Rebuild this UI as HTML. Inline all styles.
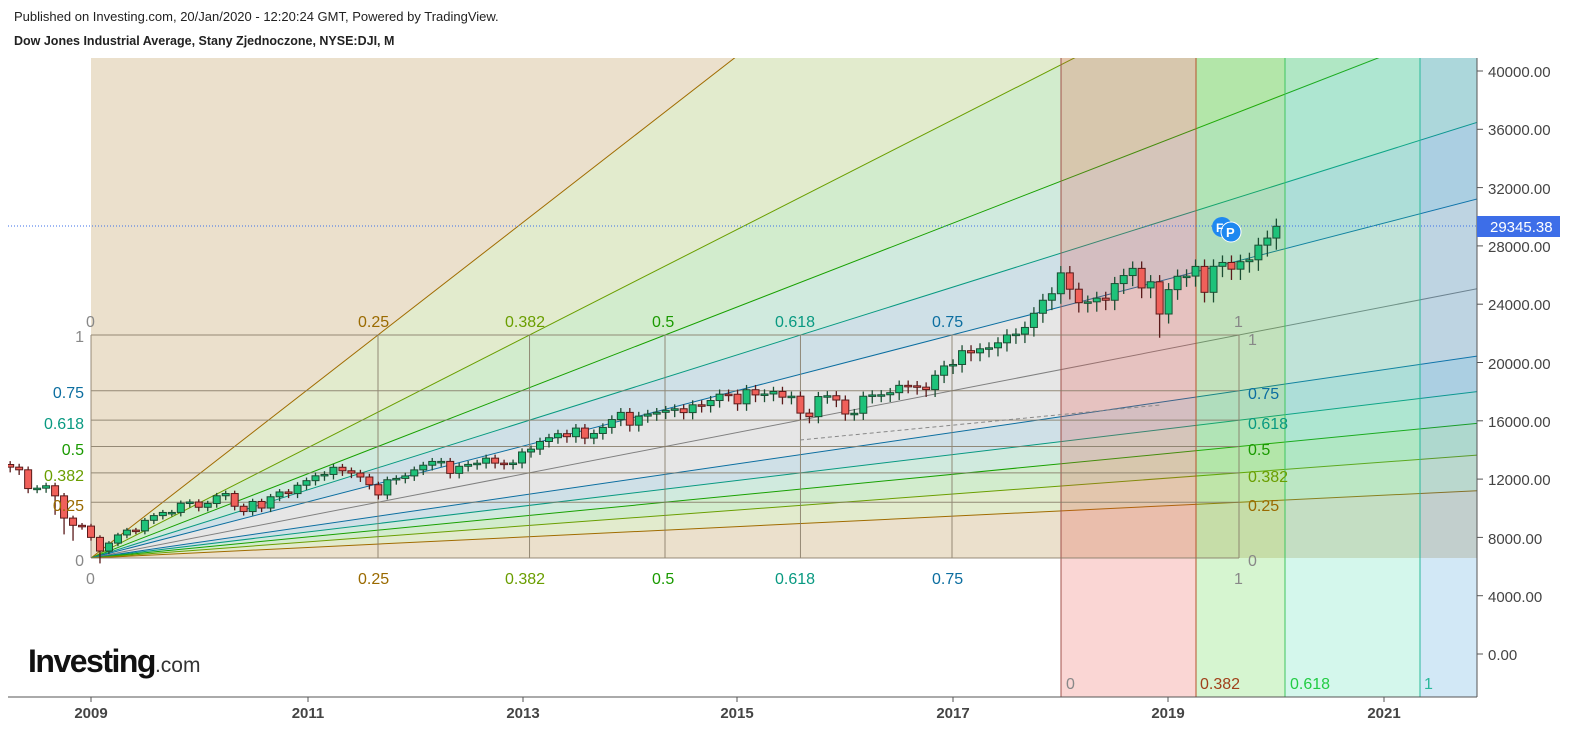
<!DOCTYPE html>
<html><head><meta charset="utf-8"><style>
html,body{margin:0;padding:0;background:#fff;}
svg{display:block;font-family:"Liberation Sans",sans-serif;}
</style></head><body>
<svg id="s" width="1573" height="730" xmlns="http://www.w3.org/2000/svg">
<defs><clipPath id="cp"><rect x="91" y="58" width="1386" height="500"/></clipPath>
<clipPath id="pa"><rect x="8" y="58" width="1469" height="639"/></clipPath></defs>
<rect width="1573" height="730" fill="#fff"/>
<g id="fans" clip-path="url(#cp)"></g>
<g id="vb"></g>
<g id="box" stroke="#857a66" stroke-width="1" opacity="0.85"></g>
<line x1="800" y1="440" x2="1160" y2="405" stroke="#888" stroke-dasharray="4,3"/>
<line x1="8" y1="226" x2="1477" y2="226" stroke="#3b6fe8" stroke-dasharray="1,2"/>
<g id="candles" clip-path="url(#pa)"></g>
<circle cx="1222" cy="227" r="10" fill="#1e88f0"/><circle cx="1231" cy="232" r="10" fill="#1e88f0" stroke="#fff" stroke-width="1"/>
<text x="1216" y="232" font-size="12" font-weight="bold" fill="#fff">F</text>
<text x="1226" y="237" font-size="13" font-weight="bold" fill="#fff">P</text>
<g font-size="16">
<text x="86" y="327" fill="#888">0</text>
<text x="358" y="327" fill="#9a6a00">0.25</text>
<text x="505" y="327" fill="#6a9e00">0.382</text>
<text x="652" y="327" fill="#1a9a00">0.5</text>
<text x="775" y="327" fill="#089981">0.618</text>
<text x="932" y="327" fill="#0c6ea0">0.75</text>
<text x="1234" y="327" fill="#888">1</text>
<text x="86" y="584" fill="#888">0</text>
<text x="358" y="584" fill="#9a6a00">0.25</text>
<text x="505" y="584" fill="#6a9e00">0.382</text>
<text x="652" y="584" fill="#1a9a00">0.5</text>
<text x="775" y="584" fill="#089981">0.618</text>
<text x="932" y="584" fill="#0c6ea0">0.75</text>
<text x="1234" y="584" fill="#888">1</text>
<g text-anchor="end">
<text x="84" y="342" fill="#888">1</text>
<text x="84" y="398" fill="#0c6ea0">0.75</text>
<text x="84" y="429" fill="#089981">0.618</text>
<text x="84" y="455" fill="#1a9a00">0.5</text>
<text x="84" y="481" fill="#6a9e00">0.382</text>
<text x="84" y="511" fill="#9a6a00">0.25</text>
<text x="84" y="566" fill="#888">0</text>
</g>
<text x="1248" y="345" fill="#888">1</text>
<text x="1248" y="399" fill="#0c6ea0">0.75</text>
<text x="1248" y="429" fill="#089981">0.618</text>
<text x="1248" y="455" fill="#1a9a00">0.5</text>
<text x="1248" y="482" fill="#6a9e00">0.382</text>
<text x="1248" y="511" fill="#9a6a00">0.25</text>
<text x="1248" y="566" fill="#888">0</text>
<text x="1066" y="689" fill="#888">0</text>
<text x="1200" y="689" fill="#a0401a">0.382</text>
<text x="1290" y="689" fill="#22cc44">0.618</text>
<text x="1424" y="689" fill="#2ab89a">1</text>
</g>
<line x1="1477" y1="58" x2="1477" y2="697" stroke="#555"/>
<line x1="8" y1="697" x2="1477" y2="697" stroke="#555"/>
<g id="yax" font-size="15" fill="#444">
<text x="1488" y="77">40000.00</text>
<text x="1488" y="135">36000.00</text>
<text x="1488" y="194">32000.00</text>
<text x="1488" y="252">28000.00</text>
<text x="1488" y="310">24000.00</text>
<text x="1488" y="369">20000.00</text>
<text x="1488" y="427">16000.00</text>
<text x="1488" y="485">12000.00</text>
<text x="1488" y="544">8000.00</text>
<text x="1488" y="602">4000.00</text>
<text x="1488" y="660">0.00</text>
</g>
<rect x="1477" y="216" width="83" height="21" fill="#3d6ee8"/>
<text x="1490" y="232" font-size="15" fill="#fff">29345.38</text>
<g font-size="15" font-weight="bold" fill="#444" text-anchor="middle">
<text x="91" y="718">2009</text><text x="308" y="718">2011</text><text x="523" y="718">2013</text>
<text x="737" y="718">2015</text><text x="953" y="718">2017</text><text x="1168" y="718">2019</text><text x="1384" y="718">2021</text>
</g>
<g stroke="#555" id="xt"></g>
<text x="28" y="672" font-size="32" font-weight="bold" fill="#111" letter-spacing="-1.5">Investing<tspan font-size="21" font-weight="normal" fill="#333" letter-spacing="0">.com</tspan></text>
<text x="14" y="21" font-size="13" fill="#222">Published on Investing.com, 20/Jan/2020 - 12:20:24 GMT, Powered by TradingView.</text>
<text x="14" y="45" font-size="12.5" font-weight="bold" fill="#222">Dow Jones Industrial Average, Stany Zjednoczone, NYSE:DJI, M</text>
</svg>
<script>
var NS="http://www.w3.org/2000/svg";
function el(p,t,a){var e=document.createElementNS(NS,t);for(var k in a)e.setAttribute(k,a[k]);document.getElementById(p).appendChild(e);return e;}
var Ox=91,Oy=558,W=1148,H=223;
var fs=[0.25,0.382,0.5,0.618,0.75];
var col={0.25:"#a06c00",0.382:"#6a9e00",0.5:"#18a000",0.618:"#089981",0.75:"#0c6ea0",1:"#808080"};
var fill={0.25:"#ebe0cc",0.382:"#e2ebcd",0.5:"#d2eccd",0.618:"#d0eade",0.75:"#cfe0e7",1:"#e6e6e6"};
function far(dx,dy){var L=Math.sqrt(dx*dx+dy*dy);return [Ox+dx/L*5000,Oy+dy/L*5000];}
var rays=[{p:[Ox,Oy-5000]}];
fs.forEach(function(f){rays.push({p:far(f*W,-H),f:f});});
rays.push({p:far(W,-H),f:1});
fs.slice().reverse().forEach(function(f){rays.push({p:far(W,-f*H),f:f});});
rays.push({p:[Ox+5000,Oy]});
var bandF=[0.25,0.382,0.5,0.618,0.75,1,1,0.75,0.618,0.5,0.382,0.25];
for(var i=0;i<rays.length-1;i++){
 var a=rays[i].p,b=rays[i+1].p;
 el("fans","polygon",{points:Ox+","+Oy+" "+a[0]+","+a[1]+" "+b[0]+","+b[1],fill:fill[bandF[i]],stroke:fill[bandF[i]],"stroke-width":"0.5"});
}
for(var i=1;i<rays.length-1;i++){var p=rays[i].p;el("fans","line",{x1:Ox,y1:Oy,x2:p[0],y2:p[1],stroke:col[rays[i].f],"stroke-width":1});}
[0,0.25,0.382,0.5,0.618,0.75,1].forEach(function(f){
 var y=Oy-f*H;el("box","line",{x1:Ox,y1:y,x2:Ox+W,y2:y});
 var x=Ox+f*W;el("box","line",{x1:x,y1:Oy-H,x2:x,y2:Oy});
});
var vb=[[1061,1196,"rgba(230,70,60,0.22)","#a0524b"],[1196,1285,"rgba(70,210,40,0.22)","#b5532b"],[1285,1420,"rgba(40,215,160,0.2)","#3ec55e"],[1420,1477,"rgba(30,140,210,0.2)","#2ab89a"]];
vb.forEach(function(v){el("vb","rect",{x:v[0],y:58,width:v[1]-v[0],height:639,fill:v[2]});el("vb","line",{x1:v[0],y1:58,x2:v[0],y2:697,stroke:v[3]});});
[91,308,523,737,953,1168,1384].forEach(function(x){el("xt","line",{x1:x,y1:697,x2:x,y2:702});});
for(var k=0;k<11;k++){var y=71+k*58.3;el("xt","line",{x1:1477,y1:y,x2:1483,y2:y});}
var c=[12820,12638,11350,11378,11544,10851,9325,8829,8776,
8001,7063,7609,8168,8500,8447,9172,9496,9712,9713,10345,10428,
10067,10325,10857,11009,10137,9774,10466,10015,10788,11118,11006,11578,
11892,12226,12320,12811,12570,12414,12143,11614,10913,11955,12046,12218,
12633,12952,13212,13214,12393,12880,13009,13091,13437,13096,13026,13104,
13861,14054,14579,14840,15116,14910,15500,14810,15130,15546,16086,16577,
15699,16322,16458,16581,16717,16827,16563,17098,17043,17391,17828,17823,
17165,18133,17776,17841,18011,17620,17690,16528,16285,17664,17720,17425,
16466,16517,17685,17774,17787,17930,18432,18401,18308,18142,19124,19763,
19864,20812,20663,20941,21009,21350,21891,21948,22405,23377,24272,24719,
26149,25029,24103,24163,24416,24271,25415,25965,26458,25116,25538,23327,
24999,25916,25929,26593,24815,26600,26864,26403,26917,27046,28051,28538,29345];
function Y(v){return 654-v*0.014575;}
var prev=13000;
for(var i=0;i<c.length;i++){
 var o=prev,cl=c[i],x=91+(i-9)*8.98;
 var hi=Math.max(o,cl)*1.018,lo=Math.min(o,cl)*0.972;
 if(i==5||i==6||i==7||i==10)lo=Math.min(o,cl)*0.88;
 if(i==128)lo=21700;
 var up=cl>=o;
 el("candles","line",{x1:x,y1:Y(hi),x2:x,y2:Y(lo),stroke:up?"#1b4d32":"#5a1a1a","stroke-width":1.3});
 var t=Y(Math.max(o,cl)),b=Y(Math.min(o,cl));
 el("candles","rect",{x:x-3.5,y:t,width:7,height:Math.max(1.5,b-t),fill:up?"#1ec27a":"#f0605a",stroke:up?"#1b4d32":"#5a1a1a","stroke-width":1});
 prev=cl;
}
</script>
</body></html>
